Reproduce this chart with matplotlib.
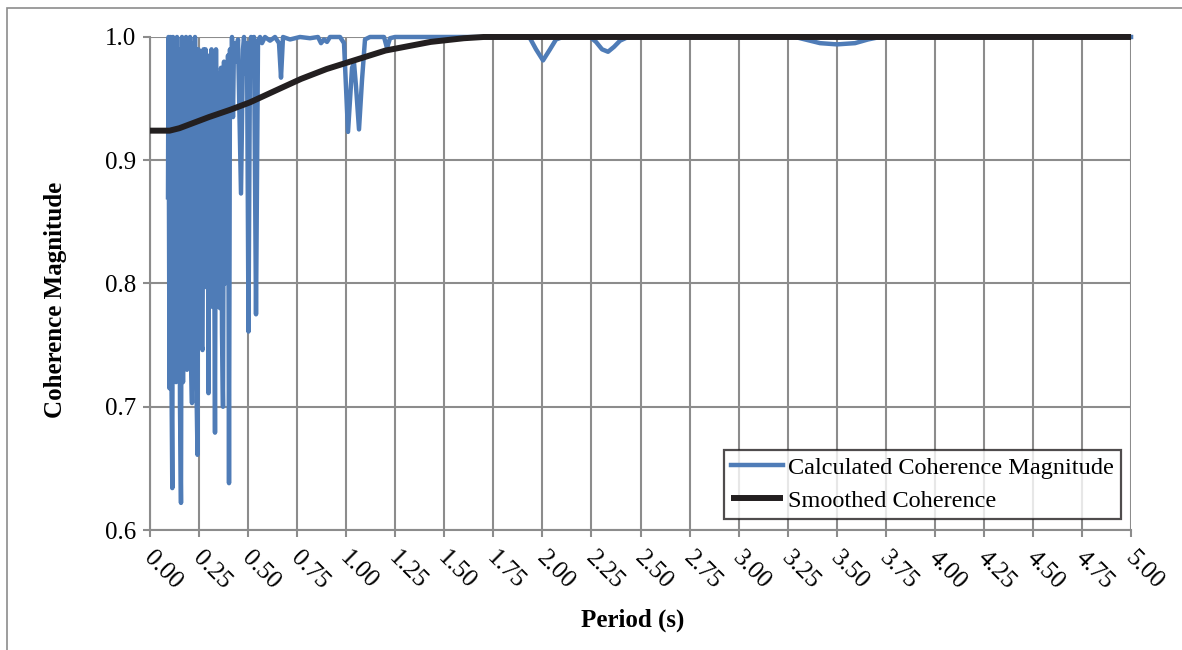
import matplotlib
matplotlib.use("Agg")
from matplotlib import pyplot as plt
import matplotlib.patches as mpatches
from matplotlib.transforms import ScaledTranslation

# Raw coherence estimate vs period
period = [0.0917, 0.0943, 0.0994, 0.1045, 0.1096, 0.1137, 0.1172, 0.1223, 0.1274, 0.1325,
          0.1376, 0.1427, 0.1478, 0.1529, 0.1580, 0.1631, 0.1682, 0.1733, 0.1784, 0.1835,
          0.1886, 0.1937, 0.1988, 0.2039, 0.2090, 0.2141, 0.2192, 0.2243, 0.2294, 0.2345,
          0.2421, 0.2472, 0.2523, 0.2574, 0.2625, 0.2676, 0.2727, 0.2778, 0.2829, 0.2880,
          0.2931, 0.2982, 0.3033, 0.3084, 0.3135, 0.3186, 0.3236, 0.3313, 0.3364, 0.3415,
          0.3466, 0.3517, 0.3568, 0.3619, 0.3670, 0.3721, 0.3772, 0.3823, 0.3874, 0.3925,
          0.3976, 0.4027, 0.4077, 0.4128, 0.4179, 0.4230, 0.4281, 0.4383, 0.4485, 0.4638,
          0.4740, 0.4791, 0.4893, 0.4944, 0.5020, 0.5097, 0.5148, 0.5250, 0.5301, 0.5403,
          0.5505, 0.5607, 0.5708, 0.5861, 0.6116, 0.6371, 0.6575, 0.6677, 0.6779, 0.7136,
          0.7645, 0.8155, 0.8563, 0.8716, 0.8869, 0.9021, 0.9174, 0.9684, 0.9888, 1.0092,
          1.0296, 1.0398, 1.0499, 1.0652, 1.0805, 1.0958, 1.1213, 1.1927, 1.2080, 1.2232,
          1.2487, 1.9113, 1.9368, 1.9674, 2.0031, 2.0387, 2.0693, 2.1050, 2.2426, 2.2732,
          2.3038, 2.3344, 2.3649, 2.3955, 2.4363, 3.2875, 3.3384, 3.4149, 3.5015, 3.5933,
          3.6595, 3.7207, 5.0]
coherence = [0.870, 1.000, 0.715, 1.000, 0.720, 0.634, 1.000, 0.750, 0.995, 0.720,
             1.000, 0.730, 0.990, 0.700, 0.622, 1.000, 0.720, 0.995, 0.760, 1.000,
             0.730, 0.990, 0.800, 1.000, 0.740, 0.703, 0.995, 0.770, 1.000, 0.740,
             0.661, 0.990, 0.780, 0.985, 0.750, 0.746, 0.990, 0.800, 0.990, 0.797,
             0.980, 0.711, 0.985, 0.790, 0.990, 0.781, 0.975, 0.679, 0.990, 0.800,
             0.781, 0.970, 0.780, 0.975, 0.760, 0.700, 0.980, 0.800, 0.970, 0.860,
             0.985, 0.638, 0.990, 0.935, 1.000, 0.935, 0.995, 0.980, 0.998, 0.873,
             0.990, 1.000, 0.970, 0.995, 0.761, 0.990, 1.000, 0.998, 1.000, 0.775,
             0.997, 1.000, 0.995, 1.000, 0.997, 1.000, 0.995, 0.967, 1.000, 0.998,
             1.000, 0.999, 1.000, 0.995, 0.998, 0.996, 1.000, 1.000, 0.995, 0.923,
             0.975, 0.979, 0.960, 0.925, 0.965, 0.998, 1.000, 1.000, 0.991, 0.999,
             1.000, 1.000, 0.999, 0.990, 0.981, 0.990, 0.998, 1.000, 1.000, 0.996,
             0.990, 0.988, 0.992, 0.997, 1.000, 1.000, 0.998, 0.995, 0.994, 0.995,
             0.998, 1.000, 1.000]

# Smoothed coherence
smooth_period = [0.0, 0.05, 0.10, 0.15, 0.20, 0.30, 0.41, 0.51, 0.66, 0.77, 0.90,
                 1.02, 1.20, 1.43, 1.60, 1.70, 5.0]
smooth_coherence = [0.924, 0.924, 0.924, 0.926, 0.929, 0.935, 0.941, 0.947, 0.958, 0.966, 0.974,
                    0.980, 0.989, 0.996, 0.999, 1.000, 1.000]

x_ticks = [i * 0.25 for i in range(21)]
x_tick_labels = [f"{t:.2f}" for t in x_ticks]
y_ticks = [0.6, 0.7, 0.8, 0.9, 1.0]
y_tick_labels = [f"{t:.1f}" for t in y_ticks]

plt.rcParams['font.family'] = ['Liberation Serif', 'DejaVu Serif']
grid_color = '#8c8c8c'
fs = 18

fig = plt.figure(figsize=(11.82, 6.5), dpi=100)
ax = fig.add_axes([0.1269, 0.1846, 0.8300, 0.7585])

ax.plot(period, coherence, color='#4f7cb7', lw=3.2, label='Calculated Coherence Magnitude',
        clip_on=False, zorder=3, solid_joinstyle='round')
ax.plot(smooth_period, smooth_coherence, color='#231f20', lw=4.3, label='Smoothed Coherence',
        clip_on=False, zorder=4, solid_capstyle='butt')

ax.set_xlim(0, 5)
ax.set_ylim(0.6, 1.0)
ax.set_xticks(x_ticks)
ax.set_xticklabels(x_tick_labels, rotation=-45, ha='left', va='top', rotation_mode='anchor')
ax.set_yticks(y_ticks)
ax.set_yticklabels(y_tick_labels)
ax.tick_params(axis='both', labelsize=fs, color=grid_color, width=1.5, length=5, direction='out')
ax.tick_params(axis='x', pad=7)
ax.tick_params(axis='y', pad=5)
shift = ScaledTranslation(5 / 100, 0, fig.dpi_scale_trans)
for lbl in ax.get_xticklabels():
    lbl.set_transform(lbl.get_transform() + shift)
ax.grid(True, color=grid_color, lw=1.5)
ax.set_axisbelow(True)
for side in ['top', 'right']:
    ax.spines[side].set_visible(False)
for side in ['left', 'bottom']:
    ax.spines[side].set_color(grid_color)
    ax.spines[side].set_linewidth(1.5)

ax.set_xlabel('Period (s)', fontsize=fs, fontweight='bold')
ax.xaxis.set_label_coords(0.492, -0.16)
ax.set_ylabel('Coherence Magnitude', fontsize=fs, fontweight='bold')
ax.yaxis.set_label_coords(-0.085, 0.467)

leg = ax.legend(loc='lower right', bbox_to_anchor=(0.99, 0.022), borderaxespad=0,
                fontsize=17.5, frameon=True, fancybox=False, handlelength=2.15,
                handletextpad=0.2, borderpad=0.3, labelspacing=0.45)
leg.get_frame().set_edgecolor('#231f20')
leg.get_frame().set_linewidth(1.6)

# outer chart border
border = mpatches.Rectangle((7 / 1182, -0.1), 1.2, 1.1 - 8 / 650, transform=fig.transFigure,
                            fill=False, edgecolor=grid_color, lw=1.2, clip_on=False)
fig.patches.append(border)

fig.savefig('out.png', dpi=100)
